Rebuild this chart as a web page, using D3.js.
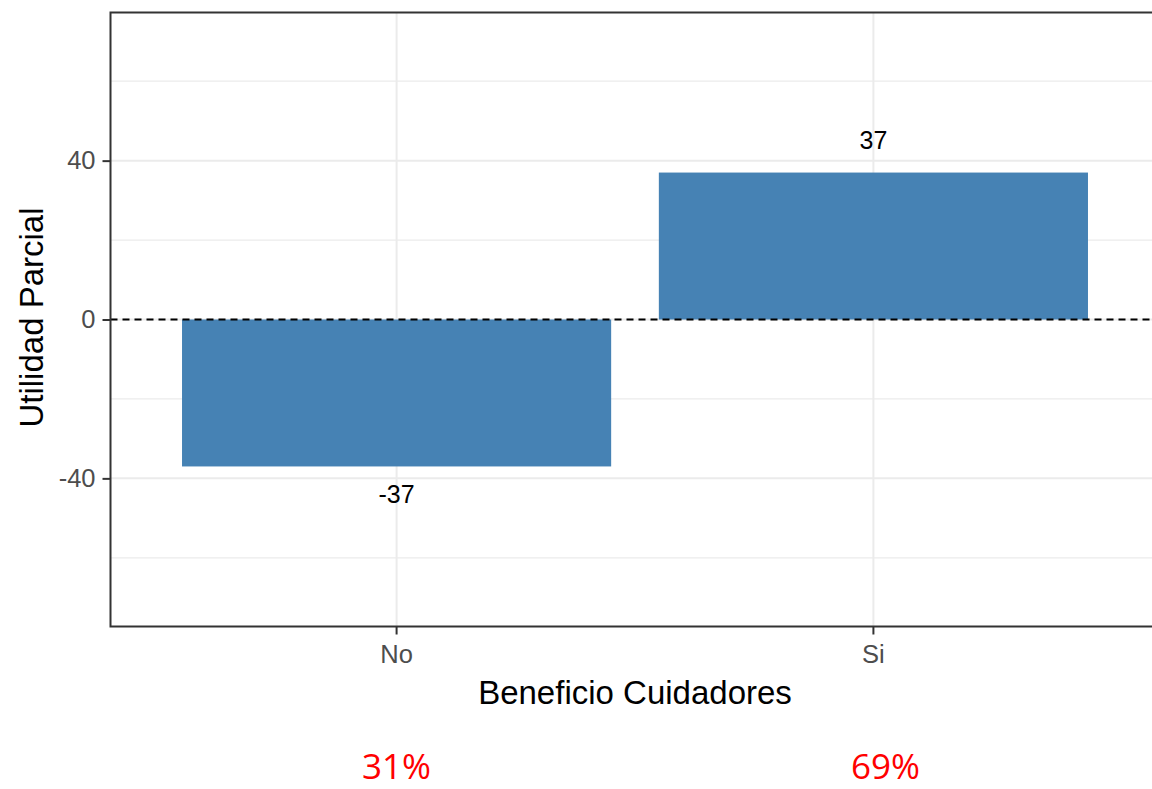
<!DOCTYPE html>
<html>
<head>
<meta charset="utf-8">
<script src="https://cdn.jsdelivr.net/npm/d3@7"></script>
<style>
    html, body {margin: 0; padding: 0; background: #ffffff;}
    svg {display: block;}
</style>
</head>
<body>
<svg id="chart" width="1152" height="789"></svg>
<script>
// data
let categories = ["No", "Si"];
let utilities = [-37, 37];
let shares = ["31%", "69%"];
let yTicks = [-40, 0, 40];
let yMinorTicks = [-60, -20, 20, 60];
let yLimits = [-77.3, 77.3];

let svg = d3.select("#chart");
let opt = {
    left: 110.5,
    right: 1159.5,
    top: 12.5,
    bottom: 626.5,
    barColor: "#4682b4",
    gridColor: "#ebebeb",
    axisColor: "#333333",
    textColor: "#4d4d4d",
    font: "'Liberation Sans', Arial, sans-serif"
};

let x = d3.scaleBand()
    .domain(categories)
    .range([opt.left, opt.right])
    .paddingInner(0.1)
    .paddingOuter(0.15);

let y = d3.scaleLinear()
    .domain(yLimits)
    .range([opt.bottom, opt.top]);

let rows = categories.map((c, i) => ({cat: c, val: utilities[i], share: shares[i]}));

//grid
let grid = svg.append("g").attr("class", "grid");
grid.selectAll(".minor")
    .data(yMinorTicks)
    .enter().append("line")
    .attr("class", "minor")
    .attr("x1", opt.left).attr("x2", opt.right)
    .attr("y1", d => y(d)).attr("y2", d => y(d))
    .style("stroke", opt.gridColor)
    .style("stroke-width", 1.2);
grid.selectAll(".majorY")
    .data(yTicks)
    .enter().append("line")
    .attr("class", "majorY")
    .attr("x1", opt.left).attr("x2", opt.right)
    .attr("y1", d => y(d)).attr("y2", d => y(d))
    .style("stroke", opt.gridColor)
    .style("stroke-width", 2);
grid.selectAll(".majorX")
    .data(categories)
    .enter().append("line")
    .attr("class", "majorX")
    .attr("x1", d => x(d) + x.bandwidth() / 2).attr("x2", d => x(d) + x.bandwidth() / 2)
    .attr("y1", opt.top).attr("y2", opt.bottom)
    .style("stroke", opt.gridColor)
    .style("stroke-width", 2);

//bars
svg.append("g").selectAll("rect")
    .data(rows)
    .enter().append("rect")
    .attr("x", d => x(d.cat))
    .attr("width", x.bandwidth())
    .attr("y", d => y(Math.max(0, d.val)))
    .attr("height", d => Math.abs(y(d.val) - y(0)))
    .style("fill", opt.barColor);

//zero line
svg.append("line")
    .attr("x1", opt.left).attr("x2", opt.right)
    .attr("y1", y(0)).attr("y2", y(0))
    .style("stroke", "#000000")
    .style("stroke-width", 2)
    .style("stroke-dasharray", "7 5");

//bar labels
svg.append("g").selectAll("text")
    .data(rows)
    .enter().append("text")
    .attr("x", d => x(d.cat) + x.bandwidth() / 2)
    .attr("y", d => d.val >= 0 ? y(d.val) - 24 : y(d.val) + 37)
    .style("font-family", opt.font)
    .style("font-size", "25px")
    .style("fill", "#000000")
    .style("text-anchor", "middle")
    .text(d => d.val);

//axes
let yAxis = d3.axisLeft(y)
    .tickValues(yTicks)
    .tickFormat(d => String(d))
    .tickSize(8)
    .tickPadding(7);
let gy = svg.append("g")
    .attr("transform", `translate(${opt.left},0)`)
    .call(yAxis);

let xAxis = d3.axisBottom(x)
    .tickSize(8)
    .tickPadding(10);
let gx = svg.append("g")
    .attr("transform", `translate(0,${opt.bottom})`)
    .call(xAxis);

[gx, gy].forEach(g => {
    g.select(".domain").remove();
    g.selectAll(".tick line")
        .style("stroke", opt.axisColor)
        .style("stroke-width", 2);
    g.selectAll(".tick text")
        .style("font-family", opt.font)
        .style("font-size", "25.5px")
        .style("fill", opt.textColor);
});

//panel border
svg.append("rect")
    .attr("x", opt.left)
    .attr("y", opt.top)
    .attr("width", opt.right - opt.left)
    .attr("height", opt.bottom - opt.top)
    .style("fill", "none")
    .style("stroke", opt.axisColor)
    .style("stroke-width", 2);

//axis titles
svg.append("text")
    .attr("x", (opt.left + opt.right) / 2)
    .attr("y", 704)
    .style("font-family", opt.font)
    .style("font-size", "33px")
    .style("fill", "#000000")
    .style("text-anchor", "middle")
    .text("Beneficio Cuidadores");

svg.append("text")
    .attr("transform", `translate(43,${(opt.top + opt.bottom) / 2 - 2}) rotate(-90)`)
    .style("font-family", opt.font)
    .style("font-size", "33px")
    .style("fill", "#000000")
    .style("text-anchor", "middle")
    .text("Utilidad Parcial");

//share labels
svg.append("g").selectAll("text")
    .data(rows)
    .enter().append("text")
    .attr("x", d => x(d.cat) + x.bandwidth() / 2)
    .attr("dx", (d, i) => i * 12)
    .attr("y", 779)
    .style("font-family", "'Open Sans', 'Noto Sans', sans-serif")
    .style("font-size", "35px")
    .style("fill", "#ff0000")
    .style("text-anchor", "middle")
    .text(d => d.share);
</script>
</body>
</html>
